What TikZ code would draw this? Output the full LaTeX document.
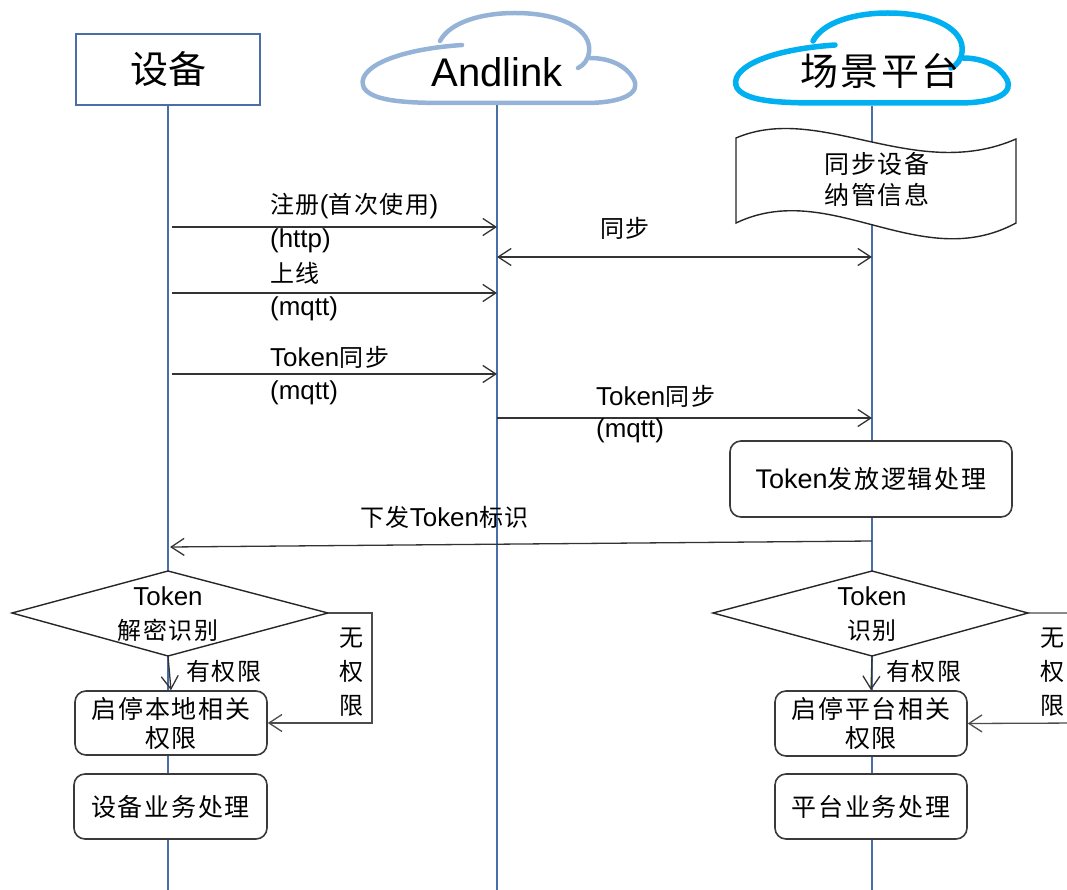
\documentclass[tikz,border=0pt]{standalone}
\usepackage{fontspec}
\setmainfont{Noto Sans CJK SC}[LetterSpace=7]
\newfontfamily\plaincjk{Noto Sans CJK SC}
\newfontfamily\lat{Liberation Sans}[Scale=1.08]
\newfontfamily\latplain{Liberation Sans}
\usetikzlibrary{arrows.meta}
\newcommand\La[1]{{\lat #1}}
\definecolor{lifeC}{HTML}{4A6EA8}
\definecolor{cloudA}{HTML}{95B3D7}
\definecolor{cloudB}{HTML}{00B0F0}
\definecolor{boxC}{HTML}{3A3A3A}
\tikzset{
  lifeline/.style={draw=lifeC, line width=1.4pt},
  msg/.style={draw=black!80, line width=1.3pt, -{Straight Barb[length=13pt,width=17pt,line width=1.3pt]}},
  msgboth/.style={draw=black!80, line width=1.3pt, {Straight Barb[length=13pt,width=17pt,line width=1.3pt]}-{Straight Barb[length=13pt,width=17pt,line width=1.3pt]}},
  lbl/.style={inner sep=0pt, anchor=west, font=\fontsize{24}{30}\selectfont},
  rbox/.style={draw=boxC, line width=1.6pt, fill=white, rounded corners=11pt, inner sep=0pt, align=center, font=\fontsize{25}{29}\selectfont},
  cloudline/.style={line width=4.5pt, line cap=round, fill=none},
}
\begin{document}
\begin{tikzpicture}[x=1pt,y=-1pt]
\useasboundingbox (0,0) rectangle (1067,890);
\clip (0,0) rectangle (1067,890);

% header: device
\node[draw=lifeC, line width=1.4pt, fill=white, minimum width=184pt, minimum height=71pt, inner sep=0pt, font=\plaincjk\fontsize{38}{38}\selectfont] (dev) at (168,69.5) {设备};

% clouds
\draw[cloudA, cloudline] (462,45) .. controls (390,50) and (355,70) .. (364,88) .. controls (373,102) and (410,103) .. (450,103) -- (585,103) .. controls (625,103) and (642,92) .. (633,78) .. controls (626,66) and (610,58) .. (590,58);
\draw[cloudA, cloudline] (440,41) .. controls (450,22) and (482,13) .. (515,13) .. controls (562,13) and (592,30) .. (589,52) .. controls (588,60) and (584,65) .. (578,68);
\node[inner sep=0pt, font=\latplain\fontsize{40}{40}\selectfont] (andl) at (497,72) {Andlink};
\coordinate (andlTop) at (497,105);
\begin{scope}[shift={(373,0)}]
\draw[cloudB, cloudline, line width=5.5pt] (462,45) .. controls (390,50) and (355,70) .. (364,88) .. controls (373,102) and (410,103) .. (450,103) -- (585,103) .. controls (625,103) and (642,92) .. (633,78) .. controls (626,66) and (610,58) .. (590,58);
\draw[cloudB, cloudline, line width=5.5pt] (440,41) .. controls (450,22) and (482,13) .. (515,13) .. controls (562,13) and (592,30) .. (589,52) .. controls (588,60) and (584,65) .. (578,68);
\end{scope}
\node[inner sep=0pt, font=\fontsize{38}{38}\selectfont] (scene) at (880,71) {场景平台};
\coordinate (sceneTop) at (872,106);

% lifelines
\coordinate (devEnd) at (168,890);
\coordinate (andlEnd) at (497,890);
\coordinate (sceneEnd) at (872,890);
\draw[lifeline] (dev.south) -- (devEnd);
\draw[lifeline] (andlTop) -- (andlEnd);
\draw[lifeline] (sceneTop) -- (sceneEnd);

% document shape
\draw[draw=black!85, line width=1.4pt, fill=white] (736,138) .. controls (820,102) and (915,183) .. (1016,139) -- (1016,223) .. controls (920,275) and (830,178) .. (736,223) -- cycle;
\node[inner sep=0pt, align=center, font=\fontsize{25}{31}\selectfont] (doc) at (877,180) {同步设备\\纳管信息};

% messages
\coordinate (d1) at (172,227); \coordinate (a1) at (497,227);
\draw[msg] (d1) -- (a1);
\node[lbl] (l1) at (270,206) {注册\La{(}首次使用\La{)}};
\node[lbl] (l1b) at (270,241) {\La{(http)}};

\coordinate (a2) at (497,257); \coordinate (s2) at (872,257);
\draw[msgboth] (a2) -- (s2);
\node[lbl] (l2) at (600,228) {同步};

\coordinate (d3) at (172,293); \coordinate (a3) at (497,293);
\draw[msg] (d3) -- (a3);
\node[lbl] (l3) at (270,273) {上线};
\node[lbl] (l3b) at (270,309) {\La{(mqtt)}};

\coordinate (d4) at (172,374); \coordinate (a4) at (497,374);
\draw[msg] (d4) -- (a4);
\node[lbl] (l4) at (270,357) {\La{Token}同步};
\node[lbl] (l4b) at (270,393) {\La{(mqtt)}};

\coordinate (a5) at (497,418); \coordinate (s5) at (872,418);
\draw[msg] (a5) -- (s5);
\node[lbl] (l5) at (596,396) {\La{Token}同步};
\node[lbl] (l5b) at (596,431) {\La{(mqtt)}};

\node[rbox, minimum width=282pt, minimum height=76pt] (tok) at (871,479) {\La{Token}发放逻辑处理};

\coordinate (s6) at (872,541); \coordinate (d6) at (170,547);
\draw[msg] (s6) -- (d6);
\node[lbl] (l6) at (360,517) {下发\La{Token}标识};

% left diamond
\coordinate (ldL) at (12,613); \coordinate (ldT) at (168,571); \coordinate (ldR) at (328,613); \coordinate (ldB) at (168,656);
\draw[draw=black!85, line width=1.4pt, fill=white] (ldL) -- (ldT) -- (ldR) -- (ldB) -- cycle;
\node[inner sep=0pt, align=center, font=\fontsize{24}{34}\selectfont] (ldtext) at (168,614) {\La{Token}\\解密识别};

\node[rbox, minimum width=192pt, minimum height=64pt] (lbox1) at (171,723) {启停本地相关\\权限};
\node[rbox, minimum width=193pt, minimum height=65pt] (lbox2) at (170.5,806.5) {设备业务处理};

\draw[msg] (ldB) -- (lbox1.north);
\node[lbl] (yl) at (186,671) {有权限};
\coordinate (lc1) at (372,613); \coordinate (lc2) at (372,723);
\draw[msg, draw=black!70] (ldR) -- (lc1) -- (lc2) -- (lbox1.east);
\node[inner sep=0pt, align=center, font=\fontsize{24}{34}\selectfont] (nl) at (351,672) {无\\权\\限};

% right diamond
\coordinate (rdL) at (713,613); \coordinate (rdT) at (872,571); \coordinate (rdR) at (1028,613); \coordinate (rdB) at (872,656);
\draw[draw=black!85, line width=1.4pt, fill=white] (rdL) -- (rdT) -- (rdR) -- (rdB) -- cycle;
\node[inner sep=0pt, align=center, font=\fontsize{24}{34}\selectfont] (rdtext) at (872,614) {\La{Token}\\识别};

\node[rbox, minimum width=192pt, minimum height=65pt] (rbox1) at (871,723.5) {启停平台相关\\权限};
\node[rbox, minimum width=192pt, minimum height=65pt] (rbox2) at (871,806.5) {平台业务处理};

\draw[msg] (rdB) -- (rbox1.north);
\node[lbl] (yr) at (886,671) {有权限};
\coordinate (rc1) at (1080,613); \coordinate (rc2) at (1080,723);
\draw[msg, draw=black!70] (rdR) -- (rc1) -- (rc2) -- (rbox1.east);
\node[inner sep=0pt, align=center, font=\fontsize{24}{34}\selectfont] (nr) at (1052,672) {无\\权\\限};
\end{tikzpicture}
\end{document}
